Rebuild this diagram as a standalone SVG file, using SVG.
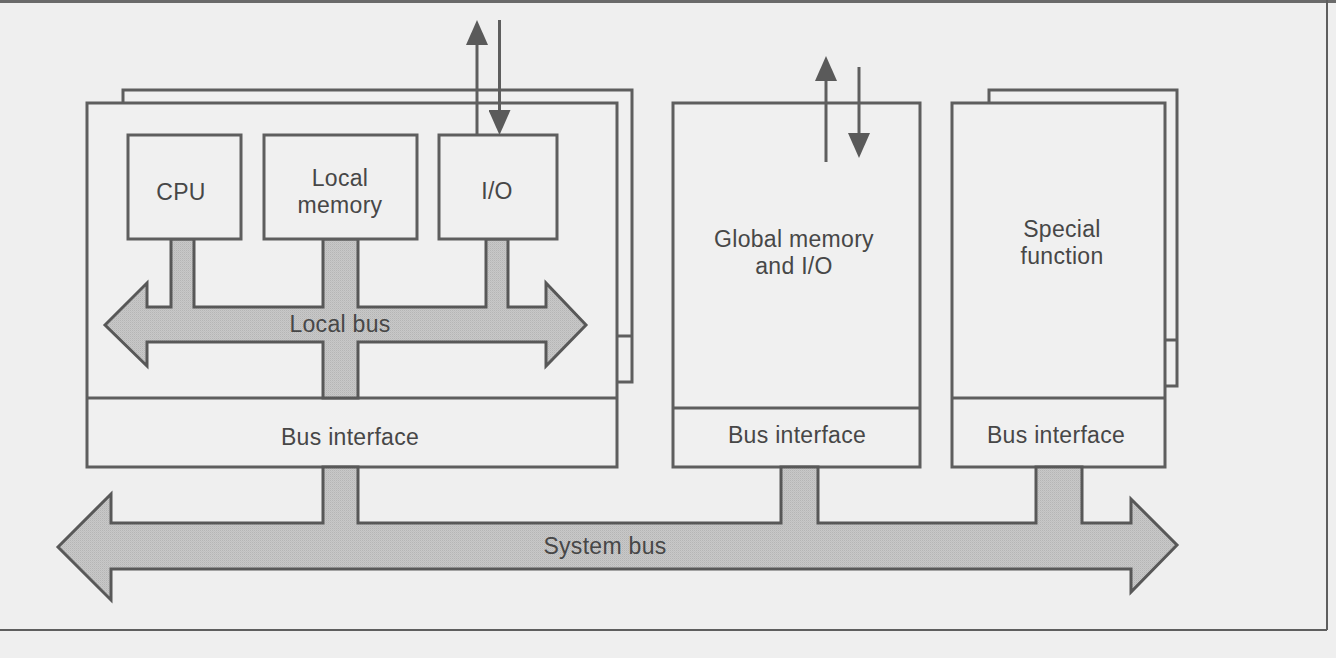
<svg xmlns="http://www.w3.org/2000/svg" width="1336" height="658" viewBox="0 0 1336 658">
  <defs>
    <pattern id="dither" width="2" height="2" patternUnits="userSpaceOnUse">
      <rect width="2" height="2" fill="#c8c8c8"/>
      <rect width="1" height="1" fill="#b5b5b5"/>
      <rect x="1" y="1" width="1" height="1" fill="#bfbfbf"/>
    </pattern>
    <marker id="head" viewBox="0 0 25 22" refX="0" refY="11" markerWidth="25" markerHeight="22" markerUnits="userSpaceOnUse" orient="auto">
      <path d="M0,0 L25,11 L0,22 Z" fill="#5a5a5a"/>
    </marker>
  </defs>
  <style>
    .box { fill: #f0f0f0; stroke: #5e5e5e; stroke-width: 3; }
    .ln { fill: none; stroke: #5e5e5e; stroke-width: 3; }
    .bus { fill: url(#dither); stroke: #585858; stroke-width: 3; stroke-linejoin: miter; }
    .sig { fill: none; stroke: #5e5e5e; stroke-width: 3; marker-end: url(#head); }
    .t { font-family: "Liberation Sans", Arial, Helvetica, sans-serif; font-size: 23px; letter-spacing: 0.3px; fill: #474747; text-anchor: middle; }
  </style>

  <rect x="0" y="0" width="1336" height="658" fill="#efefef"/>

  <!-- frame -->
  <g id="frame">
    <rect x="0" y="0" width="1336" height="3" fill="#6a6a6a"/>
    <line class="ln" x1="1327" y1="0" x2="1327" y2="630" style="stroke-width:2"/>
    <line class="ln" x1="0" y1="630" x2="1327" y2="630" style="stroke-width:2"/>
  </g>

  <!-- left processor module -->
  <g id="module-processor">
    <rect class="box" x="123" y="90" width="509" height="292"/>
    <line class="ln" x1="617" y1="336" x2="632" y2="336"/>
    <rect class="box" x="87" y="103" width="530" height="364"/>
    <line class="ln" x1="87" y1="398" x2="617" y2="398"/>
    <text class="t" x="350" y="445">Bus interface</text>
  </g>

  <!-- global memory module -->
  <g id="module-global">
    <rect class="box" x="673" y="103" width="247" height="364"/>
    <line class="ln" x1="673" y1="408" x2="920" y2="408"/>
    <text class="t" x="794" y="247">Global memory</text>
    <text class="t" x="794" y="274">and I/O</text>
    <text class="t" x="797" y="443">Bus interface</text>
  </g>

  <!-- special function module -->
  <g id="module-special">
    <rect class="box" x="989" y="90" width="188" height="296"/>
    <line class="ln" x1="1165" y1="340" x2="1177" y2="340"/>
    <rect class="box" x="952" y="103" width="213" height="364"/>
    <line class="ln" x1="952" y1="398" x2="1165" y2="398"/>
    <text class="t" x="1062" y="237">Special</text>
    <text class="t" x="1062" y="264">function</text>
    <text class="t" x="1056" y="443">Bus interface</text>
  </g>

  <!-- connectors: buses and signal arrows -->
  <g id="connectors">
    <path id="local-bus" class="bus" d="M105,325 L147,283 L147,307 L171,307 L171,239 L194,239 L194,307 L323,307 L323,239 L358,239 L358,307 L486,307 L486,239 L508,239 L508,307 L546,307 L546,283 L586,325 L546,366 L546,342 L358,342 L358,398 L323,398 L323,342 L147,342 L147,366 Z"/>
    <text class="t" x="340" y="332">Local bus</text>
    <path id="system-bus" class="bus" d="M58,547 L111,494 L111,523 L323,523 L323,467 L358,467 L358,523 L781,523 L781,467 L818,467 L818,523 L1036,523 L1036,467 L1082,467 L1082,523 L1131,523 L1131,499 L1177,545 L1131,592 L1131,569 L111,569 L111,600 Z"/>
    <text class="t" x="605" y="554">System bus</text>
    <line class="sig" x1="477" y1="135" x2="477" y2="45"/>
    <line class="sig" x1="499.5" y1="20" x2="499.5" y2="110"/>
    <line class="sig" x1="826" y1="162" x2="826" y2="81"/>
    <line class="sig" x1="859" y1="67" x2="859" y2="133"/>
  </g>

  <!-- inner units of processor module -->
  <g id="cpu">
    <rect class="box" x="128" y="135" width="113" height="104"/>
    <text class="t" x="181" y="200">CPU</text>
  </g>
  <g id="local-memory">
    <rect class="box" x="264" y="135" width="153" height="104"/>
    <text class="t" x="340" y="186">Local</text>
    <text class="t" x="340" y="213">memory</text>
  </g>
  <g id="io">
    <rect class="box" x="439" y="135" width="118" height="104"/>
    <text class="t" x="497" y="199">I/O</text>
  </g>
</svg>
